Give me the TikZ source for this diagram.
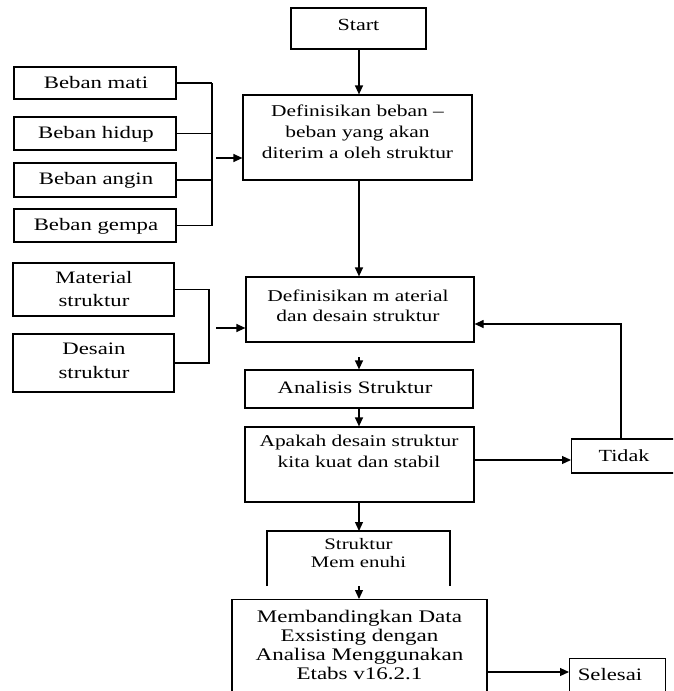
\documentclass[tikz,border=0pt]{standalone}
\usepackage{fontspec}
\setmainfont{Liberation Serif}[FakeStretch=1.3]
\usetikzlibrary{arrows.meta}
\newcommand{\fsz}[2]{\fontsize{#1pt}{#2pt}\selectfont}
\begin{document}
\begin{tikzpicture}[x=1pt,y=-1pt,
  box/.style={draw,line width=1.2pt,rectangle,inner sep=0pt},
  txt/.style={align=center,inner sep=0pt},
  ln/.style={line width=1.2pt},
  arr/.style={line width=1.2pt,-{Triangle[length=9pt,width=8pt]}}]
\useasboundingbox (0,0) rectangle (673,691);
\clip (0,0) rectangle (673,691);

% helper coordinates
\coordinate (col) at (359,0);
\coordinate (j1) at (212,0);
\coordinate (j2) at (209,0);

% start
\node[box,minimum width=135pt,minimum height=41pt] (start) at (358.5,28.5) {};
\node[txt,font=\fsz{17}{20},anchor=base] (tstart) at (358.5,30) {Start};

% loads
\node[box,minimum width=162pt,minimum height=32pt] (mati) at (95,83) {};
\node[txt,font=\fsz{17.5}{21},anchor=base] (tmati) at (96,88) {Beban mati};
\node[box,minimum width=162pt,minimum height=33pt] (hidup) at (95,133.5) {};
\node[txt,font=\fsz{17.5}{21},anchor=base] (thidup) at (96,138) {Beban hidup};
\node[box,minimum width=162pt,minimum height=34pt] (angin) at (95,180) {};
\node[txt,font=\fsz{17.5}{21},anchor=base] (tangin) at (96,184) {Beban angin};
\node[box,minimum width=162pt,minimum height=33pt] (gempa) at (95,225.5) {};
\node[txt,font=\fsz{17.5}{21},anchor=base] (tgempa) at (96,230) {Beban gempa};

% define loads
\node[box,minimum width=229pt,minimum height=85pt] (defb) at (357.5,137.5) {};
\node[txt,font=\fsz{16.5}{21}] (tdefb) at (357.5,131.3) {Definisikan beban –\\beban yang akan\\diterim a oleh struktur};

% material / design
\node[box,minimum width=161pt,minimum height=53pt] (mat) at (93.5,289.5) {};
\node[txt,font=\fsz{17.5}{23.4}] (tmat) at (94,289) {Material\\struktur};
\node[box,minimum width=161pt,minimum height=58pt] (des) at (93.5,363) {};
\node[txt,font=\fsz{17.5}{23.4}] (tdes) at (94,360.7) {Desain\\struktur};

\node[box,minimum width=228pt,minimum height=65pt] (defm) at (360,309.5) {};
\node[txt,font=\fsz{16.5}{20}] (tdefm) at (358,306) {Definisikan m aterial\\dan desain struktur};

\node[box,minimum width=228pt,minimum height=38pt] (anal) at (359,389) {};
\node[txt,font=\fsz{17.5}{21},anchor=base] (tanal) at (355,393) {Analisis Struktur};

\node[box,minimum width=229pt,minimum height=75pt] (apa) at (359.5,464.5) {};
\node[txt,font=\fsz{16.5}{20.6}] (tapa) at (359,451.3) {Apakah desain struktur\\kita kuat dan stabil};

\node[box,minimum width=130pt,minimum height=34pt,anchor=west] (tidak) at (571,456) {};
\node[txt,font=\fsz{17}{20},anchor=base] (ttidak) at (624,461.7) {Tidak};

% open box
\draw[ln] (267,586) -- (267,531) -- (450,531) -- (450,586);
\coordinate (smtop) at (359,531);
\coordinate (smbot) at (359,586);
\node[txt,font=\fsz{16}{17.3}] (tsm) at (358.5,553) {Struktur\\Mem enuhi};

\node[box,minimum width=255pt,minimum height=110pt,anchor=north] (band) at (359.5,599) {};
\node[txt,font=\fsz{17.7}{19.3}] (tband) at (359.5,645) {Membandingkan Data\\Exsisting dengan\\Analisa Menggunakan\\Etabs v16.2.1};

\node[box,minimum width=96pt,minimum height=50pt,anchor=north west] (sel) at (569,658) {};
\node[txt,font=\fsz{17.5}{21},anchor=base] (tsel) at (610,680) {Selesai};

% connectors
\draw[arr] (start.south -| col) -- (defb.north -| col);

\draw[ln] (mati.east) -- (mati.east -| j1);
\draw[ln] (hidup.east) -- (hidup.east -| j1);
\draw[ln] (angin.east) -- (angin.east -| j1);
\draw[ln] (gempa.east) -- (gempa.east -| j1);
\draw[ln] (mati.east -| j1) -- (gempa.east -| j1);
\coordinate (a1) at (216,158);
\draw[arr] (a1) -- (a1 -| defb.west);

\draw[ln] (mat.east) -- (mat.east -| j2) -- (des.east -| j2) -- (des.east);
\coordinate (a2) at (216,328);
\draw[arr] (a2) -- (a2 -| defm.west);

\draw[arr] (defb.south -| col) -- (defm.north -| col);
\coordinate (g1) at (359,357);
\draw[arr] (g1) -- (g1 |- anal.north);
\draw[arr] (anal.south -| col) -- (apa.north -| col);

\coordinate (r1) at (0,460);
\draw[arr] (apa.east |- r1) -- (tidak.west |- r1);
\coordinate (fb) at (621,324);
\draw[arr] (tidak.north -| fb) -- (fb) -- (fb -| defm.east);

\draw[arr] (apa.south -| col) -- (smtop);
\draw[arr] (smbot) -- (band.north -| col);

\coordinate (r2) at (0,672);
\draw[arr] (band.east |- r2) -- (sel.west |- r2);
\end{tikzpicture}
\end{document}
